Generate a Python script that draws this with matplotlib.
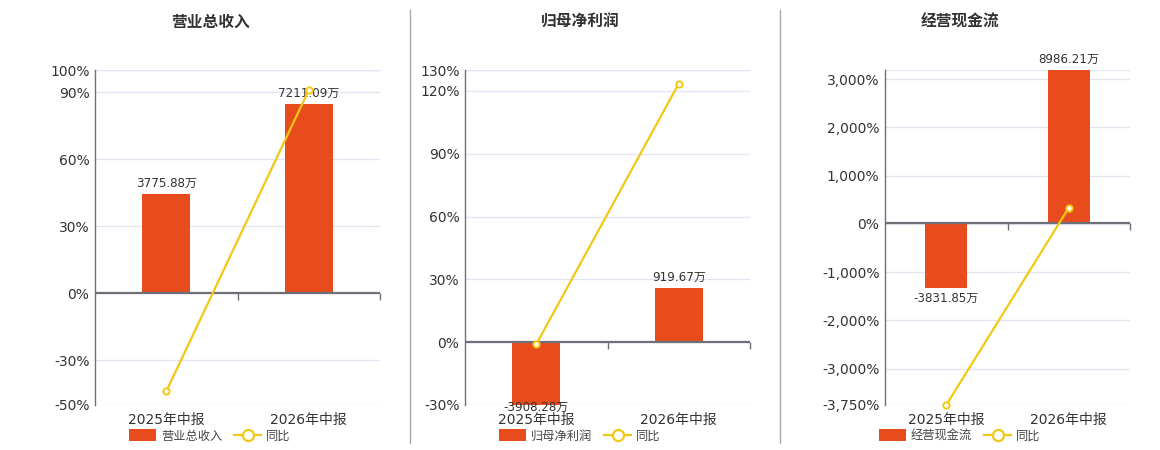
import numpy as np
import matplotlib
matplotlib.use("Agg")
import matplotlib.pyplot as plt
from matplotlib.patches import Patch
from matplotlib.lines import Line2D
from matplotlib.ticker import FuncFormatter

plt.rcParams['font.family'] = ['DejaVu Sans', 'Noto Sans CJK SC']

periods = ['2025年中报', '2026年中报']

titles = ['营业总收入', '归母净利润', '经营现金流']
bar_values = [[3775.88, 7211.09], [-3908.28, 919.67], [-3831.85, 8986.21]]
bar_labels = [['3775.88万', '7211.09万'], ['-3908.28万', '919.67万'], ['-3831.85万', '8986.21万']]
yoy = [[-43.9, 90.98], [-1.0, 123.5], [-3750.0, 334.5]]

pct_lims = [(-50, 100), (-30, 130), (-3750, 3187.5)]
pct_ticks = [[-50, -30, 0, 30, 60, 90, 100],
             [-30, 0, 30, 60, 90, 120, 130],
             [-3750, -3000, -2000, -1000, 0, 1000, 2000, 3000]]
bar_lims = [(-4273, 8508), (-1073, 4632), (-10690, 8986.21)]

bar_color = '#e84b1c'
line_color = '#f2c814'
axis_color = '#6e7079'
grid_color = '#e0e6f1'
text_color = '#333333'

W, H = 1160, 450
fig = plt.figure(figsize=(W / 100, H / 100), dpi=100)

# pixel boxes: left, right, top, bottom
boxes = [(95, 380, 70, 405), (465, 750, 70, 405), (885, 1130, 70, 405)]
centers = [210, 580, 960]

for i in range(3):
    l, r, t, b = boxes[i]
    ax = fig.add_axes([l / W, 1 - b / H, (r - l) / W, (b - t) / H])
    ax2 = ax.twinx()

    x = np.arange(len(periods))
    ax.set_xlim(-0.5, len(periods) - 0.5)
    ax2.set_xlim(-0.5, len(periods) - 0.5)
    ax.set_ylim(*pct_lims[i])
    ax2.set_ylim(*bar_lims[i])

    # grid on percent axis
    ax.set_yticks(pct_ticks[i])
    if i == 2:
        ax.yaxis.set_major_formatter(FuncFormatter(lambda v, p: f'{v:,.0f}%'))
    else:
        ax.yaxis.set_major_formatter(FuncFormatter(lambda v, p: f'{v:.0f}%'))
    ax.grid(axis='y', color=grid_color, lw=0.9)
    ax.set_axisbelow(True)
    ax.tick_params(axis='y', length=0, labelsize=10, labelcolor=text_color, pad=4)
    ax.set_xticks(x)
    ax.set_xticklabels(periods)
    ax.tick_params(axis='x', length=0, labelsize=10, labelcolor=text_color, pad=6)
    for s in ['top', 'right', 'bottom']:
        ax.spines[s].set_visible(False)
    ax.spines['left'].set_color(axis_color)
    ax.spines['left'].set_linewidth(1.0)
    ax.axhline(pct_lims[i][1], color=grid_color, lw=0.9, zorder=0)
    ax.axhline(pct_lims[i][0], color=grid_color, lw=0.9, zorder=0)

    # bars on hidden twin axis
    ax2.set_yticks([])
    for s in ax2.spines.values():
        s.set_visible(False)
    ax2.bar(x, bar_values[i], width=0.34, color=bar_color, zorder=2)
    ylo, yhi = bar_lims[i]
    span = yhi - ylo
    for xi, v, lab in zip(x, bar_values[i], bar_labels[i]):
        if v >= 0:
            ax2.text(xi, min(v, yhi) + span * 0.012, lab, ha='center', va='bottom',
                     fontsize=8.6, color=text_color, clip_on=False)
        elif v < ylo:
            # bar clipped at the bottom of the plot: label sits on the edge
            ax2.text(xi, ylo + span * 0.012, lab, ha='center', va='top',
                     fontsize=8.6, color=text_color, clip_on=False, zorder=5)
        else:
            ax2.text(xi, v - span * 0.012, lab, ha='center', va='top',
                     fontsize=8.6, color=text_color, clip_on=False)
    ax2.axhline(0, color=axis_color, lw=1.6, zorder=3)
    ax2.plot([0.5, 1.5], [0, 0], ls='none', marker=3, ms=5, mew=1.0,
             color=axis_color, zorder=3, clip_on=False)

    # yoy line in percent coords, drawn above bars
    ax2.plot(x, yoy[i], color=line_color, lw=1.6, marker='o', ms=4.5,
             mfc='white', mec=line_color, mew=1.4, zorder=4,
             transform=ax.transData, clip_on=False)
    ax2.set_ylim(*bar_lims[i])

    fig.text(centers[i] / W, 1 - 22 / H, titles[i], ha='center', va='center',
             fontsize=11.3, fontweight='bold', color=text_color)

    handles = [Patch(facecolor=bar_color, edgecolor='none'),
               Line2D([0], [0], color=line_color, lw=1.6, marker='o', ms=8,
                      mfc='white', mec=line_color, mew=1.6)]
    fig.legend(handles, [titles[i], '同比'], loc='center',
               bbox_to_anchor=(centers[i] / W, 1 - 436 / H), ncol=2, frameon=False,
               fontsize=8.8, handlelength=2.2, handleheight=1.1, columnspacing=1.0,
               handletextpad=0.4, labelcolor='#444444')

for xs in [410, 780]:
    fig.add_artist(Line2D([xs / W, xs / W], [1 - 443 / H, 1 - 10 / H],
                          color='#aaaaaa', lw=1.0))

fig.savefig('out.png', dpi=100, facecolor='white')
